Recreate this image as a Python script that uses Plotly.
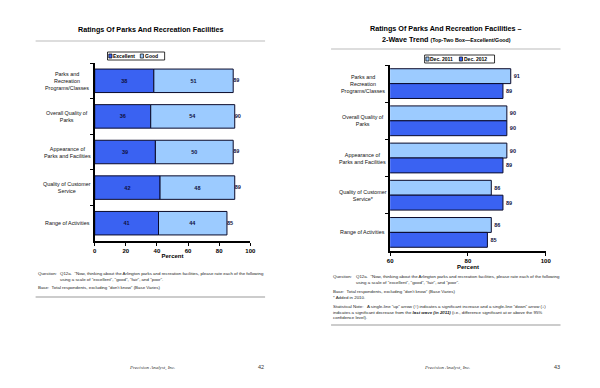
import plotly.graph_objects as go

# ---------------- data ----------------
categories = ["Parks and<br>Recreation<br>Programs/Classes",
              "Overall Quality of<br>Parks",
              "Appearance of<br>Parks and Facilities",
              "Quality of Customer<br>Service",
              "Range of Activities"]
categories_trend = ["Parks and<br>Recreation<br>Programs/Classes",
                    "Overall Quality of<br>Parks",
                    "Appearance of<br>Parks and Facilities",
                    "Quality of Customer<br>Service*",
                    "Range of Activities"]
excellent = [38, 36, 39, 42, 41]
good = [51, 54, 50, 48, 44]
totals = [89, 90, 89, 89, 85]
dec_2011 = [91, 90, 90, 86, 86]
dec_2012 = [89, 90, 89, 89, 85]
x_ticks_left = [0, 20, 40, 60, 80, 100]
x_ticks_right = [60, 80, 100]

DARK = "#3A62F2"
LIGHT = "#9CCBFF"
EDGE = "#0A0A2A"
FONT = "Liberation Sans, Arial, sans-serif"
OFF = 8  # page body margin
W, H = 600 - OFF, 388 - OFF

def px(x):
    return (x - OFF) / W

def py(y):
    return 1 - (y - OFF) / H

fig = go.Figure()

# left: stacked (via base)
fig.add_trace(go.Bar(y=categories, x=excellent, orientation="h", name="Excellent",
                     marker=dict(color=DARK, line=dict(color=EDGE, width=1)),
                     width=0.66, offset=-0.33,
                     text=excellent, textposition="inside", insidetextanchor="middle",
                     textfont=dict(size=5.5, color="#101040", family=FONT, weight="bold"),
                     xaxis="x", yaxis="y", showlegend=False))
fig.add_trace(go.Bar(y=categories, x=good, base=excellent, orientation="h", name="Good",
                     marker=dict(color=LIGHT, line=dict(color=EDGE, width=1)),
                     width=0.66, offset=-0.33,
                     text=good, textposition="inside", insidetextanchor="middle",
                     textfont=dict(size=5.5, color="#101040", family=FONT, weight="bold"),
                     xaxis="x", yaxis="y", showlegend=False))
fig.add_trace(go.Scatter(y=categories, x=[e + g for e, g in zip(excellent, good)],
                         mode="text", text=[str(t) for t in totals],
                         textposition="middle right",
                         textfont=dict(size=5.5, color="#101040", family=FONT, weight="bold"),
                         xaxis="x", yaxis="y", showlegend=False, hoverinfo="skip"))

# right: grouped by explicit offsets
fig.add_trace(go.Bar(y=categories_trend, x=dec_2011, orientation="h", name="Dec. 2011",
                     marker=dict(color=LIGHT, line=dict(color=EDGE, width=1)),
                     width=0.4, offset=-0.4,
                     text=dec_2011, textposition="outside", cliponaxis=False,
                     textfont=dict(size=5.5, color="#101040", family=FONT, weight="bold"),
                     xaxis="x2", yaxis="y2", showlegend=False))
fig.add_trace(go.Bar(y=categories_trend, x=dec_2012, orientation="h", name="Dec. 2012",
                     marker=dict(color=DARK, line=dict(color=EDGE, width=1)),
                     width=0.4, offset=0.0,
                     text=dec_2012, textposition="outside", cliponaxis=False,
                     textfont=dict(size=5.5, color="#101040", family=FONT, weight="bold"),
                     xaxis="x2", yaxis="y2", showlegend=False))

line_common = dict(showline=True, linecolor="black", linewidth=1.5, ticks="outside",
                   ticklen=3, tickcolor="black", showgrid=False, zeroline=False)
tickfont = dict(size=6, color="black", family=FONT, weight="bold")

fig.update_layout(
    width=W, height=H, margin=dict(l=0, r=0, t=0, b=0),
    paper_bgcolor="white", plot_bgcolor="white",
    barmode="overlay", font=dict(family=FONT, color="black"),
    xaxis=dict(domain=[px(93), px(251)], range=[0, 100], tickvals=x_ticks_left,
               anchor="y", tickfont=tickfont,
               title=dict(text="<b>Percent</b>", font=dict(size=6), standoff=1),
               **line_common),
    yaxis=dict(domain=[py(241), py(63)], autorange="reversed", anchor="x",
               showticklabels=False, tickson="boundaries", **line_common),
    xaxis2=dict(domain=[px(393), px(551)], range=[60, 100], tickvals=x_ticks_right,
                anchor="y2", tickfont=tickfont,
                title=dict(text="<b>Percent</b>", font=dict(size=6), standoff=1),
                **line_common),
    yaxis2=dict(domain=[py(251), py(65)], autorange="reversed", anchor="x2",
                showticklabels=False, tickson="boundaries", **line_common),
)

ann = []
shapes = []

# category labels (centered, multi-line)
for c in categories:
    ann.append(dict(x=px(65), y=c, xref="paper", yref="y", text=c, showarrow=False,
                    xanchor="center", yanchor="middle", align="center",
                    font=dict(size=5.4, color="#111", family=FONT)))
for c in categories_trend:
    ann.append(dict(x=px(365), y=c, xref="paper", yref="y2", text=c, showarrow=False,
                    xanchor="center", yanchor="middle", align="center",
                    font=dict(size=5.4, color="#111", family=FONT)))

# titles
ann.append(dict(x=px(150), y=py(30), xref="paper", yref="paper", showarrow=False,
                text="<b>Ratings Of Parks And Recreation Facilities</b>",
                font=dict(size=7.2, family=FONT), xanchor="center", yanchor="middle"))
ann.append(dict(x=px(450), y=py(29), xref="paper", yref="paper", showarrow=False,
                text="<b>Ratings Of Parks And Recreation Facilities –</b>",
                font=dict(size=7.2, family=FONT), xanchor="center", yanchor="middle"))
ann.append(dict(x=px(450), y=py(39), xref="paper", yref="paper", showarrow=False,
                text="<b>2-Wave Trend</b> <b><span style='font-size:5.3px'>(Top-Two Box—Excellent/Good)</span></b>",
                font=dict(size=7.2, family=FONT), xanchor="center", yanchor="middle"))

# title rules and bottom rules
for x0, x1, y, w, col in [(33, 266, 41, 1, "#bbbbbb"), (333, 566, 49, 1, "#bbbbbb"),
                          (33, 266, 297, 2, "#cccccc"), (333, 566, 325, 2, "#cccccc")]:
    shapes.append(dict(type="line", xref="paper", yref="paper", x0=px(x0), x1=px(x1),
                       y0=py(y), y1=py(y), line=dict(color=col, width=w)))

# custom legends
def legend_box(x0, x1, y0, y1, items):
    shapes.append(dict(type="rect", xref="paper", yref="paper", x0=px(x0), x1=px(x1),
                       y0=py(y1), y1=py(y0), line=dict(color="black", width=0.8),
                       fillcolor="white"))
    for sx, color, label in items:
        shapes.append(dict(type="rect", xref="paper", yref="paper", x0=px(sx), x1=px(sx + 3.2),
                           y0=py((y0 + y1) / 2 + 2), y1=py((y0 + y1) / 2 - 2),
                           line=dict(color="black", width=0.7), fillcolor=color))
        ann.append(dict(x=px(sx + 3.5), y=py((y0 + y1) / 2), xref="paper", yref="paper",
                        text="<b>" + label + "</b>", showarrow=False, xanchor="left",
                        yanchor="middle", borderpad=0,
                        font=dict(size=5, family=FONT)))

legend_box(106, 164, 52, 60, [(107.3, DARK, "Excellent"), (139.3, LIGHT, "Good")])
legend_box(428, 499, 55, 63, [(429.3, LIGHT, "Dec. 2011"), (463.3, DARK, "Dec. 2012")])

# footnotes
fs = 4.4
q_line = ("Q12a.  \"Now, thinking about the Arlington parks and recreation facilities, please rate each of the following"
          "<br>using a scale of \"excellent\", \"good\", \"fair\", and \"poor\".")

def note(x, y, text, anchor="left"):
    ann.append(dict(x=px(x), y=py(y), xref="paper", yref="paper", text=text, showarrow=False,
                    xanchor=anchor, yanchor="top", align="left", borderpad=0,
                    font=dict(size=fs, family=FONT, color="#222")))

note(34, 270, "Question:")
note(57, 270, q_line)
note(34, 284, "Base:  Total respondents, excluding \"don't know\" (Base Varies)")

note(334, 273, "Question:")
note(357, 273, q_line)
note(334, 288, "Base:  Total respondents, excluding \"don't know\" (Base Varies)<br>* Added in 2010.")
note(334, 303, "Statistical Note:   A single-line \"up\" arrow (↑) indicates a significant increase and a single-line \"down\" arrow (↓)"
     "<br>indicates a significant decrease from the <b><i>last wave (in 2011)</i></b> (i.e., difference significant at or above the 95%"
     "<br>confidence level).")

# page footers
for cx, pg, pgx in [(151, "42", 262), (451, "43", 562)]:
    ann.append(dict(x=px(cx), y=py(368), xref="paper", yref="paper", showarrow=False,
                    text="<i>Precision Analyst, Inc.</i>", xanchor="center", yanchor="middle",
                    font=dict(size=5, family="Liberation Serif, Times New Roman, serif", color="#333")))
    ann.append(dict(x=px(pgx), y=py(367), xref="paper", yref="paper", showarrow=False,
                    text=pg, xanchor="center", yanchor="middle",
                    font=dict(size=5.5, family=FONT, color="#333")))

fig.update_layout(annotations=ann, shapes=shapes)
fig.write_html("out.html")
